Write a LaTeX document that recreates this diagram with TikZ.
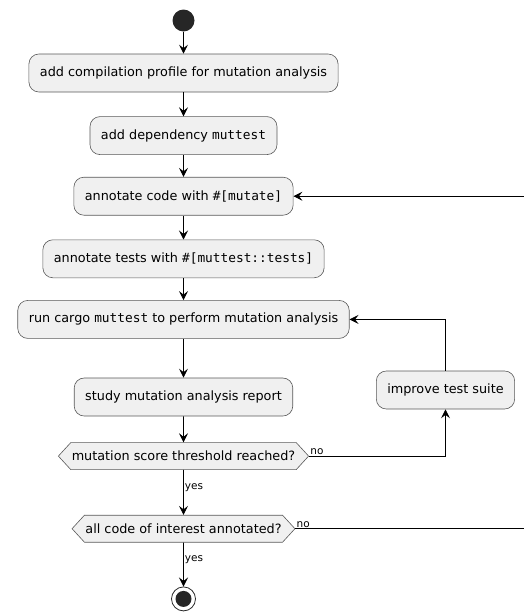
\documentclass[tikz,border=0pt]{standalone}
\usepackage{fontspec}
\setmainfont{DejaVu Sans}
\setmonofont{DejaVu Sans Mono}
\usetikzlibrary{positioning,arrows.meta,shapes.symbols}

\begin{document}
\begin{tikzpicture}[
    x=1pt, y=-1pt,
    node distance=22pt,
    action/.style={draw=black!65, line width=0.6pt, fill=black!6, rounded corners=10pt,
                   minimum height=38pt, inner xsep=11pt, font=\fontsize{12.8}{15}\selectfont},
    choice/.style={draw=black!65, line width=0.6pt, fill=black!6, shape=signal,
                   signal to=west and east, signal pointer angle=95, minimum height=27pt,
                   inner xsep=1pt, font=\fontsize{12.8}{15}\selectfont},
    annot/.style={font=\fontsize{10.5}{12}\selectfont, inner sep=1pt},
    arrow/.style={-{Stealth[length=9pt,width=9pt,inset=3.5pt]}, line width=0.8pt},
  ]
    \useasboundingbox (0,0) rectangle (524,616);

    % Start and actions (top to bottom)
    \node[circle, fill=black!85, minimum size=22pt, inner sep=0pt] (start) at (183.5,20.5) {};
    \node[action, below=22pt of start] (profile)
      {add compilation profile for mutation analysis};
    \node[action, below=24pt of profile] (depend)
      {add dependency \texttt{muttest}};
    \node[action, below=22pt of depend] (annocode)
      {annotate code with \texttt{\#[mutate]}};
    \node[action, below=24pt of annocode] (annotests)
      {annotate tests with \texttt{\#[muttest::tests]}};
    \node[action, below=22pt of annotests] (run)
      {run cargo \texttt{muttest} to perform mutation analysis};
    \node[action, below=39pt of run] (study)
      {study mutation analysis report};
    \node[action] (improve) at (445.5,390) {improve test suite};

    % Decisions
    \node[choice, below=26pt of study] (score) {mutation score threshold reached?};
    \node[choice, below=45pt of score] (done) {all code of interest annotated?};

    % Stop
    \node[circle, draw=black!85, line width=0.8pt, minimum size=24pt, inner sep=0pt,
          below=44pt of done] (stop) {};
    \node[circle, fill=black!85, minimum size=16pt, inner sep=0pt] (stopin) at (stop) {};
    \coordinate (loop) at (528,0);

    % Arrows
    \draw[arrow] (start) -- (profile);
    \draw[arrow] (profile) -- (depend);
    \draw[arrow] (depend) -- (annocode);
    \draw[arrow] (annocode) -- (annotests);
    \draw[arrow] (annotests) -- (run);
    \draw[arrow] (run) -- (study);
    \draw[arrow] (study) -- (score);
    \draw[arrow] (score.east) -- node[annot, above right, pos=0]{no}
      (improve.south |- score.east) -- (improve.south);
    \draw[arrow] (improve.north) |- (run.east);
    \draw[arrow] (score) -- node[annot, right, pos=0.4]{yes} (done);
    \draw[arrow] (done) -- node[annot, right, pos=0.4]{yes} (stop);
    \draw[arrow] (done.east) -- node[annot, above right, pos=0]{no}
      (done.east -| loop) |- (annocode.east);
\end{tikzpicture}
\end{document}
